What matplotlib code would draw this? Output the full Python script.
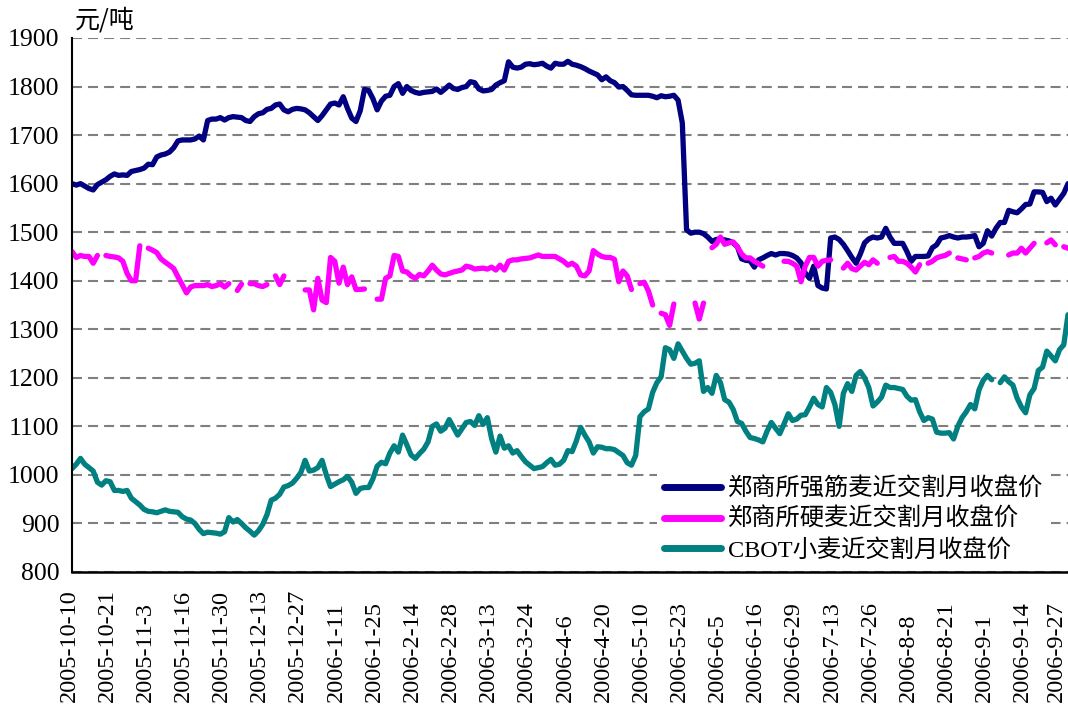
import numpy as np
import matplotlib
matplotlib.use("Agg")
import matplotlib.pyplot as plt
import matplotlib.transforms as mtransforms

plt.rcParams['font.family'] = ['Liberation Serif', 'Noto Sans CJK SC']

nan = np.nan

tick_labels = ['2005-10-10', '2005-10-21', '2005-11-3', '2005-11-16', '2005-11-30',
               '2005-12-13', '2005-12-27', '2006-1-11', '2006-1-25', '2006-2-14',
               '2006-2-28', '2006-3-13', '2006-3-24', '2006-4-6', '2006-4-20',
               '2006-5-10', '2006-5-23', '2006-6-5', '2006-6-16', '2006-6-29',
               '2006-7-13', '2006-7-26', '2006-8-8', '2006-8-21', '2006-9-1',
               '2006-9-14', '2006-9-27']

series_names = ['郑商所强筋麦近交割月收盘价', '郑商所硬麦近交割月收盘价', 'CBOT小麦近交割月收盘价']

strong_wheat = [
    1600, 1597, 1600, 1595, 1590, 1587, 1598, 1603, 1608, 1615,
    1620, 1617, 1618, 1617, 1625, 1627, 1629, 1632, 1640, 1639,
    1655, 1659, 1661, 1665, 1674, 1688, 1690, 1690, 1690, 1692,
    1698, 1690, 1730, 1733, 1733, 1736, 1731, 1736, 1738, 1737,
    1736, 1730, 1728, 1738, 1744, 1746, 1753, 1755, 1762, 1764,
    1752, 1748, 1753, 1755, 1754, 1752, 1746, 1738, 1730, 1740,
    1752, 1764, 1766, 1762, 1779, 1755, 1735, 1728, 1750, 1794,
    1792, 1775, 1752, 1770, 1780, 1782, 1800, 1806, 1786, 1800,
    1792, 1788, 1786, 1788, 1789, 1790, 1795, 1788, 1795, 1803,
    1796, 1794, 1798, 1800, 1810, 1808, 1795, 1791, 1792, 1794,
    1803, 1808, 1812, 1851, 1840, 1838, 1840, 1846, 1847, 1845,
    1846, 1848, 1842, 1838, 1848, 1846, 1846, 1852, 1846, 1844,
    1841, 1837, 1832, 1828, 1824, 1814, 1820, 1812, 1808, 1799,
    1800, 1792, 1783, 1782, 1782, 1782, 1782, 1780, 1777, 1781,
    1779, 1780, 1782, 1772, 1725, 1505, 1498, 1500, 1500, 1497,
    1490, 1481, 1485, 1486, 1484, 1482, 1478, 1470, 1445, 1442,
    1441, 1428, 1443, 1447, 1452, 1456, 1453, 1456, 1456, 1455,
    1452, 1447, 1437, 1416, 1405, 1430, 1390, 1385, 1383, 1488,
    1490, 1485, 1475, 1462, 1448, 1436, 1455, 1478, 1486, 1490,
    1488, 1490, 1508, 1490, 1477, 1477, 1477, 1460, 1440, 1450,
    1450, 1450, 1451, 1468, 1474, 1488, 1490, 1493, 1490, 1488,
    1490, 1490, 1491, 1493, 1470, 1477, 1503, 1492, 1508, 1520,
    1520, 1545, 1542, 1540, 1548, 1557, 1558, 1583, 1583, 1582,
    1563, 1570, 1556, 1568, 1580, 1600]

hard_wheat = [
    1460, 1448, 1452, 1450, 1450, 1436, 1452, nan, 1452, 1450,
    1449, 1447, 1440, 1415, 1400, 1400, 1472, nan, 1467, 1463,
    1458, 1445, 1438, 1432, 1425, 1408, 1392, 1375, 1387, 1390,
    1390, 1390, 1392, 1388, 1390, 1394, 1387, 1394, nan, 1380,
    1393, nan, 1394, 1394, 1390, 1388, 1392, nan, 1410, 1392,
    1410, nan, nan, nan, nan, 1381, 1381, 1340, 1405, 1360,
    1355, 1448, 1440, 1395, 1428, 1392, 1408, 1382, 1382, 1383,
    nan, nan, 1362, 1362, 1405, 1410, 1452, 1450, 1420, 1418,
    1410, 1405, 1413, 1410, 1420, 1432, 1422, 1414, 1412, 1415,
    1418, 1420, 1422, 1430, 1428, 1424, 1425, 1426, 1424, 1428,
    1422, 1432, 1422, 1440, 1443, 1443, 1445, 1446, 1447, 1450,
    1453, 1450, 1450, 1450, 1450, 1445, 1440, 1432, 1436, 1430,
    1412, 1410, 1420, 1462, 1455, 1450, 1448, 1448, 1444, 1398,
    1420, 1410, 1382, nan, 1394, 1397, 1379, 1350, nan, 1333,
    1330, 1308, 1352, nan, nan, nan, nan, 1354, 1321, 1354,
    nan, 1468, 1475, 1490, 1475, 1478, 1480, 1470, 1455, 1447,
    1447, 1440, 1435, 1430, nan, nan, nan, nan, 1440, 1440,
    1436, 1430, 1398, 1430, 1448, 1448, 1430, 1440, 1442, 1443,
    nan, nan, 1426, 1436, 1425, 1422, 1430, 1438, 1433, 1443,
    1436, nan, nan, 1448, 1450, 1440, 1440, 1436, 1428, 1418,
    1433, nan, 1436, 1440, 1447, 1450, 1452, 1457, nan, 1447,
    1445, 1443, nan, 1447, 1450, 1457, 1460, 1457, nan, nan,
    nan, 1453, 1457, 1457, 1467, 1457, 1467, 1477, nan, nan,
    1478, 1484, 1474, nan, 1470, 1467]

cbot_wheat = [
    1013, 1022, 1034, 1022, 1015, 1008, 985, 979, 988, 986,
    968, 968, 966, 968, 952, 945, 938, 929, 925, 924,
    922, 925, 928, 925, 924, 923, 914, 909, 907, 900,
    888, 879, 882, 881, 880, 878, 883, 912, 903, 908,
    900, 891, 884, 876, 885, 898, 918, 948, 952, 960,
    975, 978, 983, 993, 1005, 1030, 1008, 1010, 1015, 1030,
    1000, 976, 981, 986, 990, 997, 985, 962, 972, 974,
    974, 992, 1018, 1026, 1023, 1045, 1060, 1047, 1082, 1062,
    1041, 1034, 1044, 1053, 1068, 1100, 1105, 1090, 1096, 1114,
    1098, 1082, 1095, 1108, 1110, 1102, 1122, 1104, 1118, 1075,
    1047, 1080, 1055, 1060, 1045, 1050, 1038, 1027, 1020, 1013,
    1015, 1017, 1025, 1032, 1020, 1022, 1030, 1050, 1048, 1070,
    1098, 1082, 1068, 1045, 1058, 1057, 1054, 1054, 1052, 1046,
    1040, 1025, 1020, 1040, 1120, 1130, 1136, 1170, 1190, 1202,
    1262, 1258, 1240, 1270, 1255, 1240, 1228, 1230, 1235, 1172,
    1180, 1168, 1205, 1190, 1155, 1150, 1135, 1110, 1106, 1090,
    1077, 1075, 1072, 1068, 1090, 1108, 1096, 1085, 1105, 1126,
    1112, 1115, 1123, 1124, 1140, 1158, 1145, 1140, 1180, 1170,
    1145, 1100, 1168, 1188, 1172, 1205, 1213, 1200, 1180, 1142,
    1150, 1160, 1185, 1180, 1180, 1178, 1176, 1162, 1154, 1155,
    1130, 1112, 1118, 1115, 1088, 1086, 1086, 1087, 1074, 1100,
    1118, 1130, 1145, 1136, 1175, 1195, 1205, 1196, nan, 1190,
    1202, 1192, 1185, 1158, 1140, 1128, 1165, 1178, 1215, 1222,
    1255, 1245, 1235, 1258, 1268, 1330]

colors = ['#000080', '#FF00FF', '#008080']
y_ticks = list(range(800, 1901, 100))
label_step = 9

W, H = 1068, 704
fig = plt.figure(figsize=(W / 100, H / 100), dpi=100)
ax = fig.add_axes([72 / W, 132 / H, 996 / W, 534 / H])

x = np.arange(len(strong_wheat))
for vals, col, name in zip([strong_wheat, hard_wheat, cbot_wheat], colors, series_names):
    ax.plot(x, vals, color=col, lw=3.8, solid_capstyle='round',
            solid_joinstyle='round', label=name, zorder=3)

ax.set_xlim(0, len(strong_wheat) - 1)
ax.set_ylim(800, 1900)
ax.set_yticks(y_ticks)
ax.yaxis.grid(True, linestyle=(0, (4.8, 2.9)), color='#7f7f7f', lw=1.5)
ax.set_axisbelow(True)
ax.tick_params(axis='y', length=0, pad=9, labelsize=18.5)
ax.set_xticks(np.arange(0, len(tick_labels) * label_step, label_step))
ax.tick_params(axis='x', length=0, labelbottom=False)

for s in ['top', 'right']:
    ax.spines[s].set_visible(False)
ax.spines['left'].set_linewidth(1.5)
ax.spines['bottom'].set_linewidth(1.8)
ax.spines['left'].set_zorder(4)
ax.spines['bottom'].set_zorder(4)

trans = mtransforms.blended_transform_factory(ax.transData, fig.transFigure)
shift = mtransforms.ScaledTranslation(-3 / 100, 0, fig.dpi_scale_trans)
for i, lab in enumerate(tick_labels[:-1]):
    ax.text(i * label_step, 2 / H, lab, rotation=90, ha='center', va='bottom',
            fontsize=17.5, transform=trans + shift, clip_on=False)
# last label sits against the right edge of the picture
fig.text(1067 / W, 2 / H, tick_labels[-1], rotation=90, ha='right', va='bottom',
         fontsize=17.5)

fig.text(75 / W, 1 - 21 / H, '元/吨', ha='left', va='center', fontsize=18,
         family=['Noto Sans CJK SC'])

leg = ax.legend(loc='lower left', bbox_to_anchor=(0.587, 0.006), frameon=True,
                facecolor='white', edgecolor='none', framealpha=1, fancybox=False,
                fontsize=17.5, handlelength=2.35, handletextpad=0.3,
                labelspacing=0.31, borderpad=0.3, borderaxespad=0)
leg.set_zorder(5)
for line in leg.get_lines():
    line.set_linewidth(5)
    line.set_solid_capstyle('round')

fig.savefig('out.png', dpi=100)
